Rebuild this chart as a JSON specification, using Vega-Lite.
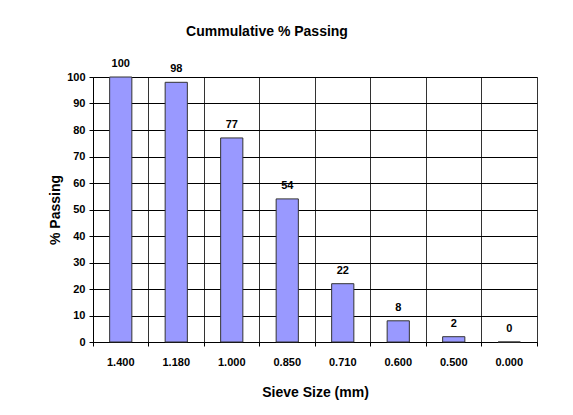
{
  "$schema": "https://vega.github.io/schema/vega-lite/v6.json",
  "width": 444,
  "height": 265,
  "autosize": {"type": "none"},
  "padding": {"left": 93, "top": 77, "right": 36, "bottom": 73},
  "background": "white",
  "config": {
    "font": "Liberation Sans",
    "view": {"stroke": "#808080", "strokeWidth": 1}
  },
  "title": {
    "text": "Cummulative % Passing",
    "fontSize": 14,
    "fontWeight": "bold",
    "color": "black",
    "anchor": "middle",
    "offset": 19,
    "dx": -48
  },
  "data": {
    "values": [
      {"sieve": "1.400", "passing": 100},
      {"sieve": "1.180", "passing": 98},
      {"sieve": "1.000", "passing": 77},
      {"sieve": "0.850", "passing": 54},
      {"sieve": "0.710", "passing": 22},
      {"sieve": "0.600", "passing": 8},
      {"sieve": "0.500", "passing": 2},
      {"sieve": "0.000", "passing": 0}
    ]
  },
  "encoding": {
    "y": {
      "field": "passing",
      "type": "quantitative",
      "scale": {"domain": [0, 100], "nice": false},
      "axis": {
        "title": "% Passing",
        "titleFontSize": 14,
        "titleFontWeight": "bold",
        "titleColor": "black",
        "titlePadding": 4,
        "values": [0, 10, 20, 30, 40, 50, 60, 70, 80, 90, 100],
        "labelOverlap": false,
        "labelFontSize": 11,
        "labelFontWeight": "bold",
        "labelColor": "black",
        "labelPadding": 4,
        "tickSize": 4,
        "tickColor": "black",
        "domainColor": "black",
        "grid": true,
        "gridColor": "black",
        "gridOpacity": 1,
        "gridWidth": 1
      }
    }
  },
  "layer": [
    {
      "mark": {"type": "bar", "fill": "#9999FF", "stroke": "#333333", "strokeWidth": 1, "width": {"band": 0.4}},
      "encoding": {
        "x": {
          "field": "sieve",
          "type": "ordinal",
          "sort": null,
          "scale": {"paddingInner": 0, "paddingOuter": 0},
          "axis": {
            "orient": "bottom",
            "title": "Sieve Size (mm)",
            "titleFontSize": 14,
            "titleFontWeight": "bold",
            "titleColor": "black",
            "titlePadding": 18,
            "labelAngle": 0,
            "labelFontSize": 11,
            "labelFontWeight": "bold",
            "labelColor": "black",
            "labelPadding": 14,
            "ticks": false,
            "grid": false,
            "domain": true,
            "domainColor": "black",
            "domainWidth": 1
          }
        }
      }
    },
    {
      "mark": {"type": "text", "fontSize": 11, "fontWeight": "bold", "color": "black", "baseline": "alphabetic", "dy": -10},
      "encoding": {
        "x": {
          "field": "sieve",
          "type": "ordinal",
          "sort": null,
          "axis": {
            "orient": "bottom",
            "title": null,
            "labels": false,
            "domain": false,
            "ticks": true,
            "tickSize": 4,
            "tickColor": "black",
            "bandPosition": 1,
            "tickExtra": true,
            "grid": true,
            "gridColor": "#333333",
            "gridOpacity": 1,
            "gridWidth": 1
          }
        },
        "text": {"field": "passing", "type": "quantitative"}
      }
    }
  ],
  "resolve": {"axis": {"x": "independent"}}
}
